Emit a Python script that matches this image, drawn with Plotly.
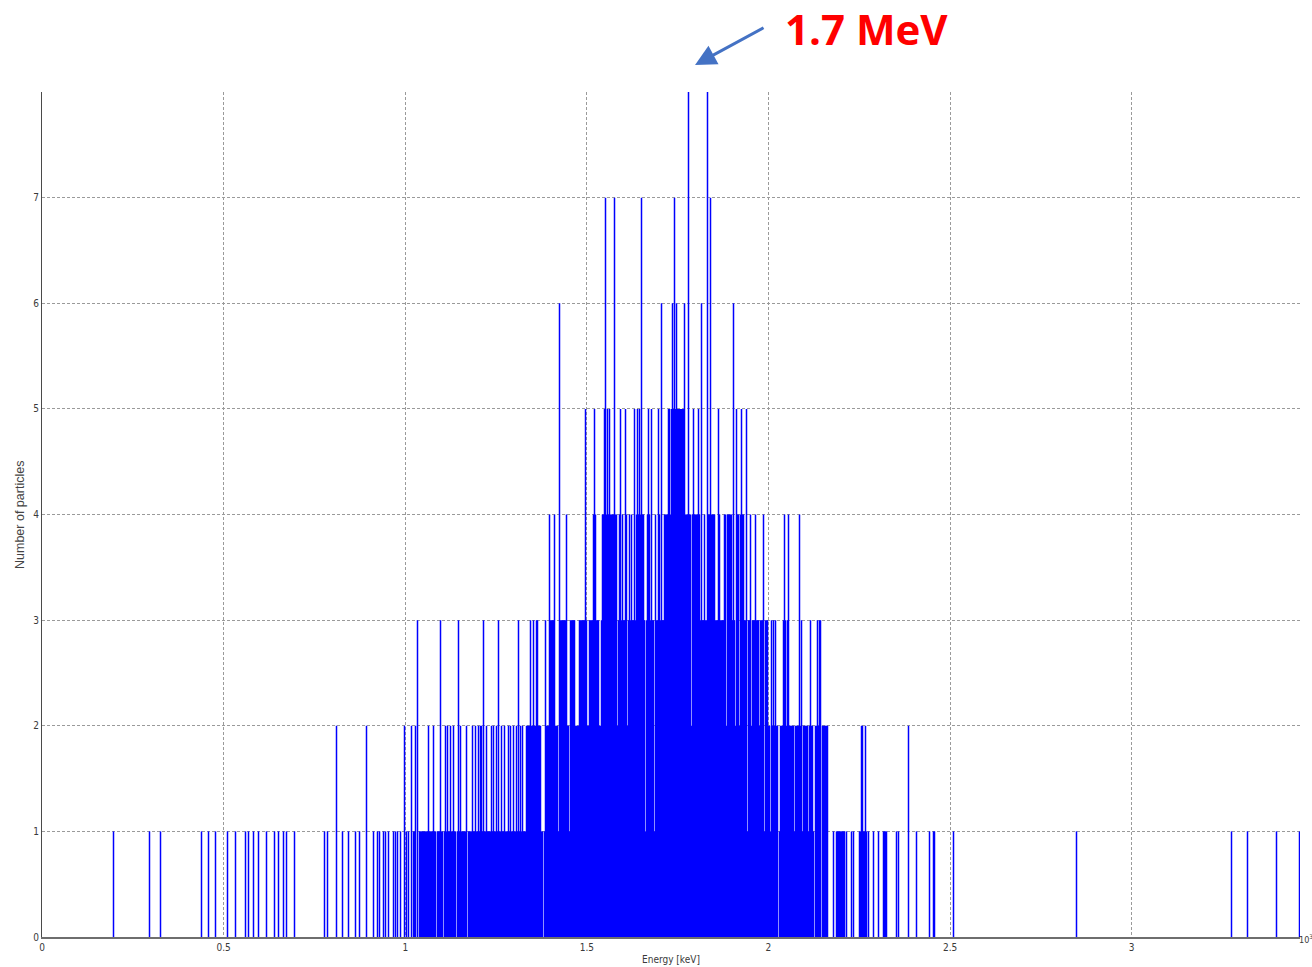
import numpy as np
import plotly.graph_objects as go

# ---------------- data (energies in 10^3 keV, counts = number of particles) -------------
BIN_WIDTH = 0.002753

x_tick_vals = [0, 0.5, 1, 1.5, 2, 2.5, 3]
x_tick_text = ["0", "0.5", "1", "1.5", "2", "2.5", "3"]
y_tick_vals = [0, 1, 2, 3, 4, 5, 6, 7]
y_tick_text = ["0", "1", "2", "3", "4", "5", "6", "7"]

# isolated bins, grouped by their count
bars_count1 = [0.198, 0.297, 0.325, 0.440, 0.459, 0.479, 0.511, 0.534, 0.561, 0.569,
               0.582, 0.595, 0.619, 0.641, 0.650, 0.665, 0.672, 0.696, 0.779, 0.785,
               0.828, 0.844, 0.862, 0.875, 0.913, 0.924, 0.928, 0.939, 0.947, 0.954,
               0.967, 0.972, 0.980, 0.986, 1.004, 1.009, 1.022, 1.025, 1.038, 1.043,
               2.180, 2.215, 2.229, 2.233, 2.274, 2.288, 2.302, 2.353, 2.359, 2.408,
               2.444, 2.453, 2.458, 2.508, 2.848, 3.276, 3.318, 3.399, 3.461]
bars_count2 = [0.812, 0.892, 0.999, 1.016, 1.029, 1.064, 1.077, 1.110, 1.116, 1.125,
               1.134, 1.151, 1.169, 1.184, 1.194, 1.202, 1.206, 1.211, 1.224, 1.238,
               1.242, 1.252, 1.264, 1.274, 1.284, 1.290, 1.297, 1.305, 1.316, 1.323,
               2.256, 2.260, 2.268, 2.385]
bars_count3 = [1.033, 1.097, 1.148, 1.216, 1.257, 1.312, 1.345, 1.352, 1.360, 1.364,
               1.386, 2.008, 2.013, 2.018, 2.040, 2.046, 2.053, 2.085, 2.092, 2.117,
               2.135, 2.140, 2.144]
bars_count4 = [1.398, 1.412, 1.444, 1.517, 1.525, 1.591, 1.598, 1.605, 1.609, 1.617,
               1.623, 1.630, 1.666, 1.673, 1.688, 1.696, 1.701, 1.816, 1.825, 1.852,
               1.862, 1.866, 1.903, 1.940, 1.950, 1.963, 1.985, 2.045, 2.054, 2.086]
bars_count5 = [1.497, 1.522, 1.548, 1.551, 1.557, 1.563, 1.577, 1.593, 1.607, 1.630,
               1.639, 1.644, 1.650, 1.669, 1.678, 1.696, 1.706, 1.724, 1.728, 1.733,
               1.770, 1.793, 1.808, 1.863, 1.912, 1.926, 1.940]
bars_count6 = [1.426, 1.706, 1.736, 1.746, 1.770, 1.816, 1.903]
bars_count7 = [1.550, 1.577, 1.650, 1.740, 1.841]
bars_count8 = [1.779, 1.832]

# stretches where every bin reaches at least the given count: (start, end, count)
solid_runs = [
    (1.046, 2.163, 1), (2.187, 2.210, 1), (2.250, 2.270, 1), (2.316, 2.325, 1),
    (1.334, 1.371, 2), (1.385, 2.163, 2),
    (1.396, 1.412, 3), (1.426, 1.444, 3), (1.453, 1.467, 3), (1.479, 1.499, 3),
    (1.508, 1.531, 3), (1.541, 1.996, 3),
    (1.544, 1.582, 4), (1.637, 1.655, 4), (1.715, 1.811, 4), (1.831, 1.848, 4),
    (1.880, 1.898, 4), (1.912, 1.930, 4),
    (1.736, 1.765, 5),
]
# thin lower bins inside those stretches: (energy, count)
run_gaps = [
    (1.086, 0), (1.105, 0), (1.140, 0), (1.171, 0), (1.380, 0), (2.027, 0), (2.128, 0), (2.146, 0),
    (1.421, 1), (1.451, 1), (1.662, 1), (1.685, 1), (1.942, 1), (1.990, 1), (2.006, 1),
    (2.031, 1), (2.052, 1), (2.073, 1), (2.095, 1), (2.109, 1), (2.123, 1),
    (1.583, 2), (1.599, 2), (1.613, 2), (1.788, 2), (1.885, 2), (1.908, 2), (1.921, 2),
    (1.953, 2), (1.976, 2),
]

# ---------------- build histogram bins -------------
PLOT_W = 1258
X_MAX = PLOT_W * BIN_WIDTH
n_bins = PLOT_W + 2


def b(e):
    return int(np.floor(e / BIN_WIDTH))


run_counts = np.zeros(n_bins, dtype=int)
for a, c, lvl in solid_runs:
    for i in range(b(a), b(c) + 1):
        run_counts[i] = max(run_counts[i], lvl)
for e, lvl in run_gaps:
    run_counts[b(e)] = min(run_counts[b(e)], lvl)

counts = run_counts.copy()
for lvl, lst in enumerate([bars_count1, bars_count2, bars_count3, bars_count4,
                           bars_count5, bars_count6, bars_count7, bars_count8], start=1):
    for e in lst:
        counts[b(e)] = max(counts[b(e)], lvl)

idx = np.nonzero(counts)[0]
xs, ys = [], []
for i in idx:
    xc = (i + 0.5) * BIN_WIDTH
    xs += [xc, xc, None]
    ys += [0, int(counts[i]), None]

fig = go.Figure(go.Scatter(
    x=xs, y=ys, mode="lines",
    line=dict(color="#0000FF", width=1.5),
    hoverinfo="skip",
))

tick_font = dict(family="Liberation Sans Narrow, DejaVu Sans Condensed, Arial Narrow, sans-serif",
                 size=10, color="#3a3a3a")

fig.update_layout(
    width=1312, height=967,
    margin=dict(l=42, r=12, t=92, b=30, pad=0),
    paper_bgcolor="white", plot_bgcolor="white",
    showlegend=False,
    xaxis=dict(range=[0, X_MAX], tickmode="array", tickvals=x_tick_vals, ticktext=x_tick_text,
               showgrid=True, gridcolor="#9a9a9a", griddash="3px,2px", gridwidth=1,
               zeroline=False, showline=True, linecolor="#6e6e6e", linewidth=2,
               ticks="", tickfont=tick_font, fixedrange=True),
    yaxis=dict(range=[0, 8], tickmode="array", tickvals=y_tick_vals, ticktext=y_tick_text,
               showgrid=True, gridcolor="#9a9a9a", griddash="3px,2px", gridwidth=1,
               zeroline=False, showline=True, linecolor="#4a4a4a", linewidth=1,
               ticks="", tickfont=tick_font, fixedrange=True),
)

fig.add_annotation(text="Number of particles", textangle=-90, xref="paper", yref="paper",
                   x=-0.0175, y=0.4994, xanchor="center", yanchor="middle", showarrow=False,
                   font=dict(family="Liberation Sans, Arial, sans-serif", size=12.5, color="#444444"))
fig.add_annotation(text="Energy [keV]", xref="paper", yref="paper",
                   x=0.5, y=-0.0272, xanchor="center", yanchor="middle", showarrow=False,
                   font=tick_font)
fig.add_annotation(text="10<sup>3</sup>", xref="paper", yref="paper",
                   x=1.0048, y=-0.0024, xanchor="center", yanchor="middle", showarrow=False,
                   font=dict(family=tick_font["family"], size=9, color="#3a3a3a"))
fig.add_annotation(text="<b>1.7 MeV</b>", xref="paper", yref="paper",
                   x=0.6558, y=1.0746, xanchor="center", yanchor="middle", showarrow=False,
                   font=dict(family="Open Sans, Noto Sans, sans-serif", size=42, color="#FF0000"))
fig.add_annotation(text="", xref="paper", yref="paper", x=0.5191, y=1.0320,
                   ax=70, ay=-38, showarrow=True, arrowhead=2, arrowsize=1.4,
                   arrowwidth=3, arrowcolor="#4472C4")

fig.write_html("out.html")
